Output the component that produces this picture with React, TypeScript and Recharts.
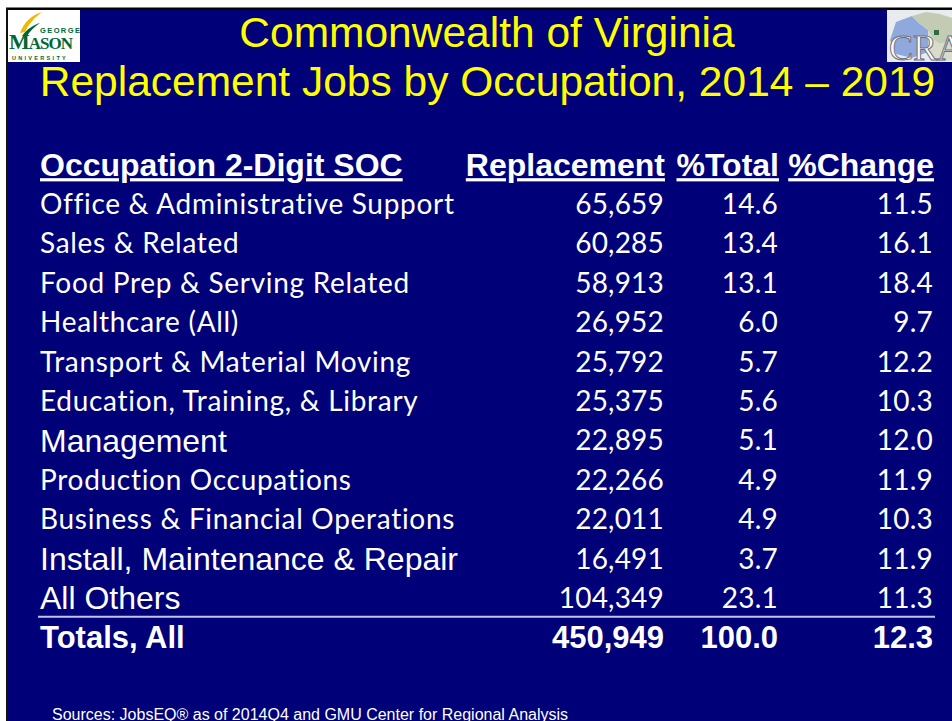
import React from 'react';
import { BarChart, Bar, XAxis, YAxis } from 'recharts';

// ---- Data ----
const occupations = [
  'Office & Administrative Support',
  'Sales & Related',
  'Food Prep & Serving Related',
  'Healthcare (All)',
  'Transport & Material Moving',
  'Education, Training, & Library',
  'Management',
  'Production Occupations',
  'Business & Financial Operations',
  'Install, Maintenance & Repair',
  'All Others',
];
const replacement = [65659, 60285, 58913, 26952, 25792, 25375, 22895, 22266, 22011, 16491, 104349];
const pctTotal = [14.6, 13.4, 13.1, 6.0, 5.7, 5.6, 5.1, 4.9, 4.9, 3.7, 23.1];
const pctChange = [11.5, 16.1, 18.4, 9.7, 12.2, 10.3, 12.0, 11.9, 10.3, 11.9, 11.3];
const totalLabel = 'Totals, All';
const totalReplacement = 450949;
const totalPct = 100.0;
const totalChange = 12.3;
const headers = ['Occupation 2-Digit SOC', 'Replacement', '%Total', '%Change'];
const titleLines = ['Commonwealth of Virginia', 'Replacement Jobs by Occupation, 2014 \u2013 2019'];
const sourceText = 'Sources: JobsEQ\u00ae as of 2014Q4 and GMU Center for Regional Analysis';

// rows that the original slide set in Arial instead of Calibri
const arialRows = new Set(['Management', 'Install, Maintenance & Repair', 'All Others']);

type Row = { label: string; kind: 'header' | 'row' | 'total'; replacement?: number; pct?: number; change?: number };

const rows: Row[] = [
  { label: headers[0], kind: 'header' },
  ...occupations.map((o, i) => ({
    label: o,
    kind: 'row' as const,
    replacement: replacement[i],
    pct: pctTotal[i],
    change: pctChange[i],
  })),
  { label: totalLabel, kind: 'total', replacement: totalReplacement, pct: totalPct, change: totalChange },
];

const NAVY = '#000078';
const ARIAL = '"Liberation Sans", Arial, sans-serif';
const CAL = 'Lato, "Open Sans", sans-serif';
const COL_NAME = 40;
const COL_REP = 664;
const COL_PCT = 778;
const COL_CHG = 933;

const fmtInt = (v: number) => v.toLocaleString('en-US');
const fmt1 = (v: number) => v.toFixed(1);

const RowTick = (props: any) => {
  const { y, payload } = props;
  const idx = typeof props.index === 'number' ? props.index : rows.findIndex((r) => r.label === payload.value);
  const r = rows[idx];
  if (!r) return null;
  if (r.kind === 'header') {
    const by = y + 11.5;
    const st = { fontFamily: ARIAL, fontWeight: 700, fontSize: 32, fill: '#fff', textDecoration: 'underline' } as any;
    return (
      <g>
        <text x={COL_NAME} y={by} style={st}>{headers[0]}</text>
        <text x={COL_REP + 1} y={by} textAnchor="end" style={st}>{headers[1]}</text>
        <text x={COL_PCT + 1} y={by} textAnchor="end" style={st}>{headers[2]}</text>
        <text x={COL_CHG + 1} y={by} textAnchor="end" style={st}>{headers[3]}</text>
      </g>
    );
  }
  if (r.kind === 'total') {
    const by = y + 11;
    const st = { fontFamily: ARIAL, fontWeight: 700, fontSize: 31, fill: '#fff' } as any;
    return (
      <g>
        <line x1={38} x2={935} y1={y - 20.5} y2={y - 20.5} stroke="#c4c4e8" strokeWidth={2} />
        <text x={COL_NAME} y={by} style={st}>{r.label}</text>
        <text x={COL_REP} y={by} textAnchor="end" style={st}>{fmtInt(r.replacement!)}</text>
        <text x={COL_PCT} y={by} textAnchor="end" style={st}>{fmt1(r.pct!)}</text>
        <text x={COL_CHG} y={by} textAnchor="end" style={st}>{fmt1(r.change!)}</text>
      </g>
    );
  }
  const isArial = arialRows.has(r.label);
  const nameStyle = isArial
    ? { fontFamily: ARIAL, fontSize: 32, fill: '#fff' }
    : { fontFamily: CAL, fontSize: 28, fill: '#fff', letterSpacing: 0.7, fontVariantLigatures: 'none' };
  const numStyle = { fontFamily: CAL, fontSize: 28, fill: '#fff', letterSpacing: 0.2 };
  return (
    <g>
      <text x={COL_NAME} y={y + (isArial ? 11.5 : 10)} style={nameStyle as any}>{r.label}</text>
      <text x={COL_REP} y={y + 10} textAnchor="end" style={numStyle as any}>{fmtInt(r.replacement!)}</text>
      <text x={COL_PCT} y={y + 10} textAnchor="end" style={numStyle as any}>{fmt1(r.pct!)}</text>
      <text x={COL_CHG} y={y + 10} textAnchor="end" style={numStyle as any}>{fmt1(r.change!)}</text>
    </g>
  );
};

const Background = () => (
  <svg width={952} height={721} style={{ position: 'absolute', left: 0, top: 0 }}>
    <rect x={0} y={0} width={952} height={721} fill="#ffffff" />
    <rect x={7} y={9} width={945} height={712} fill={NAVY} />
    <line x1={6} x2={952} y1={8.5} y2={8.5} stroke="#000" strokeWidth={2} />
    <line x1={7} x2={7} y1={8} y2={721} stroke="#111" strokeWidth={2} />
    {/* GMU logo */}
    <rect x={8} y={10} width={72} height={52} fill="#ffffff" />
    <path d="M20 33 C24 22, 32 15, 42 12 C34 18, 28 25, 25 32 Z" fill="#f2b705" />
    <path d="M22 36 C27 29, 33 25, 40 23 C34 27, 30 31, 27 36 Z" fill="#006633" />
    <text x={40} y={33} style={{ fontFamily: ARIAL, fontWeight: 700, fontSize: 7.5, fill: '#006633', letterSpacing: 1.4 }}>GEORGE</text>
    <text x={9} y={49} style={{ fontFamily: '"Liberation Serif", serif', fontWeight: 700, fontSize: 15, fill: '#006633', letterSpacing: -1 }}>
      <tspan style={{ fontSize: 22 }}>M</tspan>
      <tspan style={{ fontSize: 17 }}>ASON</tspan>
    </text>
    <text x={12} y={59.5} style={{ fontFamily: ARIAL, fontWeight: 700, fontSize: 5.5, fill: '#006633', letterSpacing: 2.3 }}>UNIVERSITY</text>
    {/* CRA logo */}
    <rect x={887} y={10} width={65} height={52} fill="#e9ecef" />
    <path d="M896 22 L912 16 L920 24 L928 30 L934 40 L928 52 L912 58 L896 54 L890 40 Z" fill="#8fa8de" />
    <path d="M912 16 L926 12 L940 14 L952 18 L952 40 L940 44 L934 40 L928 30 L920 24 Z" fill="#c3cbb5" />
    <path d="M928 30 L934 40 L940 44 L952 40 L952 60 L936 62 L928 52 Z" fill="#d7dccb" />
    <rect x={934} y={30} width={5} height={5} fill="#2e6b3a" />
    <text x={889} y={60} style={{ fontFamily: '"Liberation Serif", serif', fontSize: 36, fill: '#ffffff', stroke: '#6b6f7a', strokeWidth: 1 }}>CRA</text>
    {/* Title */}
    <text x={487} y={47} textAnchor="middle" style={{ fontFamily: ARIAL, fontSize: 42.5, fill: '#ffff00' }}>{titleLines[0]}</text>
    <text x={487.5} y={96} textAnchor="middle" style={{ fontFamily: ARIAL, fontSize: 42.5, fill: '#ffff00' }}>{titleLines[1]}</text>
    {/* Source */}
    <text x={52} y={720} style={{ fontFamily: ARIAL, fontSize: 16, fill: '#ffffff' }}>{sourceText}</text>
  </svg>
);

export default function App() {
  return (
    <div style={{ position: 'absolute', left: 0, top: 0, width: 952, height: 721, overflow: 'hidden' }}>
      <Background />
      <div style={{ position: 'absolute', left: 0, top: 0 }}>
        <BarChart
          width={952}
          height={721}
          layout="vertical"
          data={rows}
          margin={{ top: 145, bottom: 64, left: 0, right: 0 }}
        >
          <XAxis type="number" hide />
          <YAxis
            type="category"
            dataKey="label"
            width={1}
            interval={0}
            axisLine={false}
            tickLine={false}
            tick={<RowTick />}
          />
          <Bar dataKey="replacement" fill="none" isAnimationActive={false} />
        </BarChart>
      </div>
    </div>
  );
}
